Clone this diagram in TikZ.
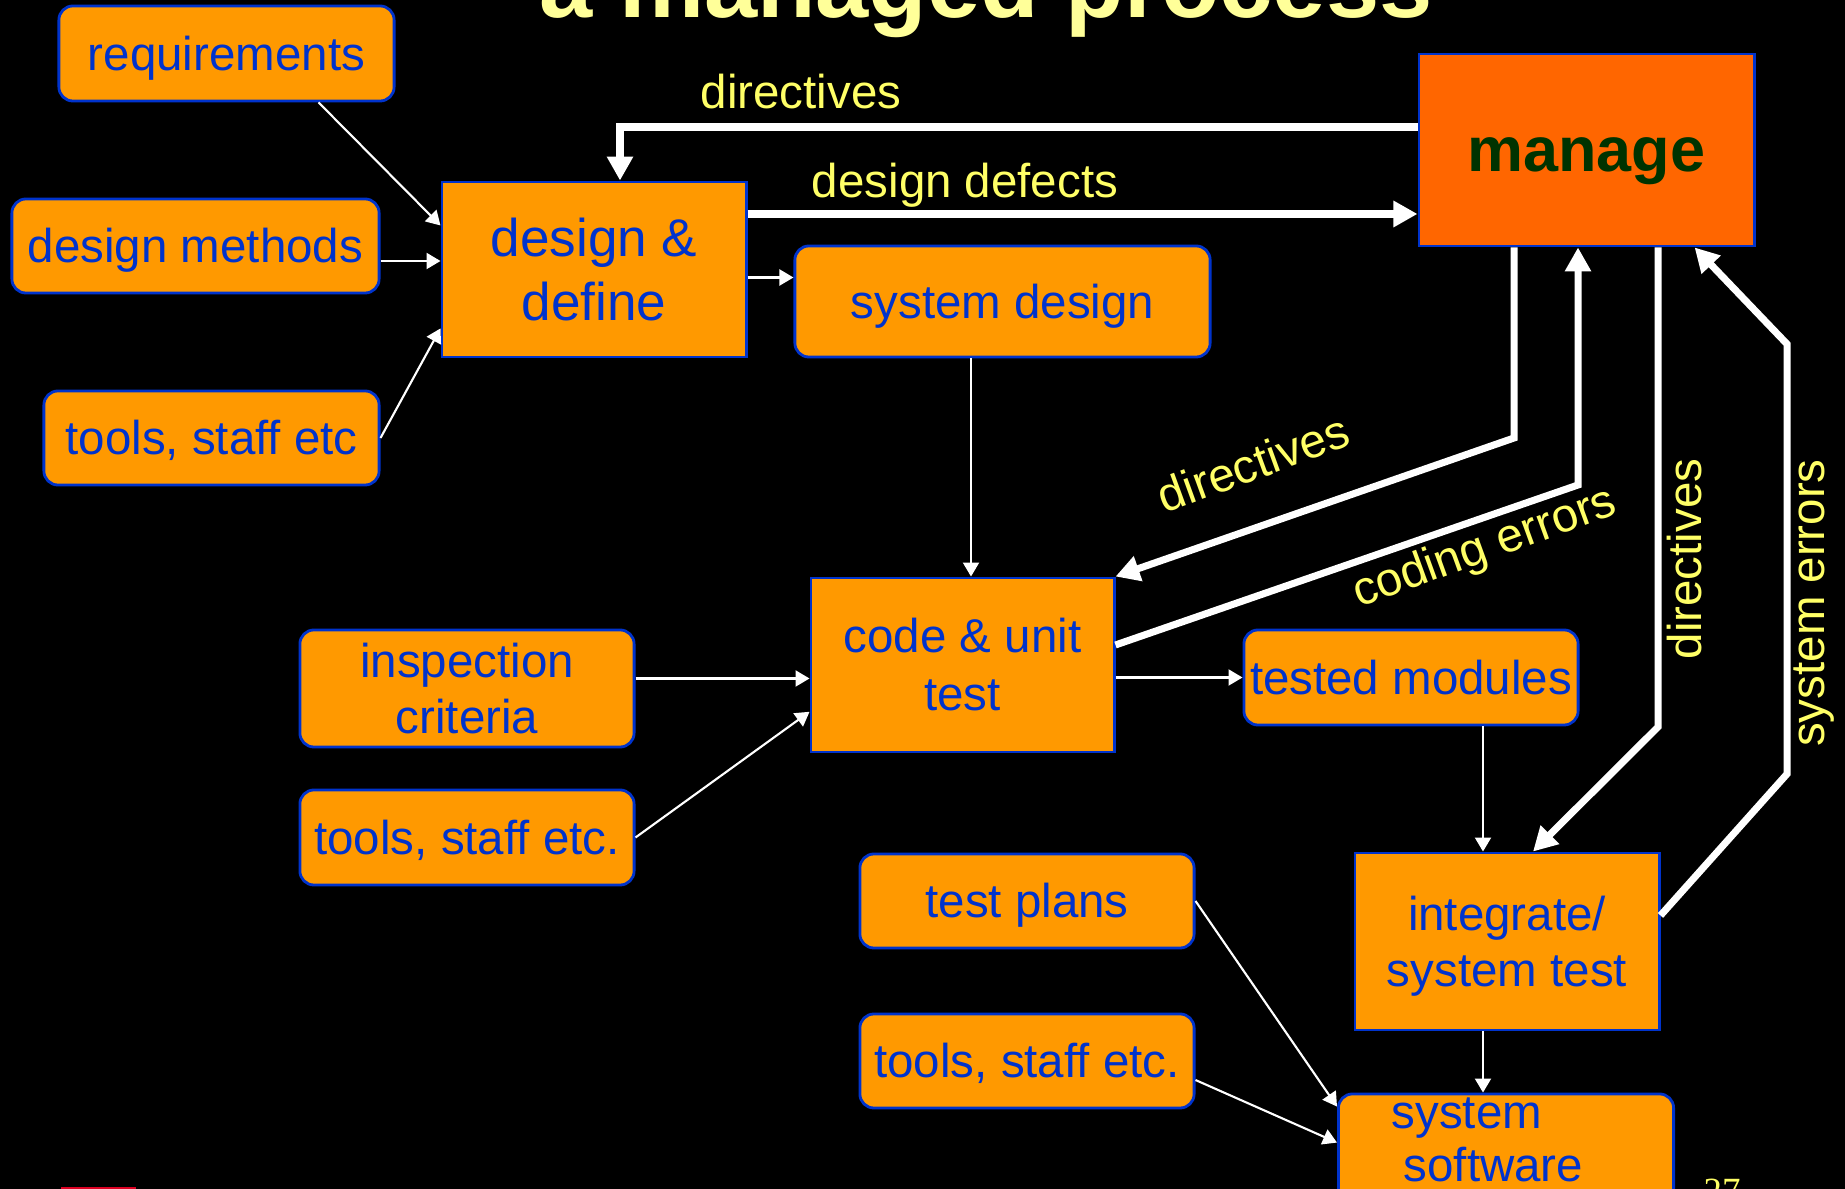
\documentclass[tikz,border=0pt]{standalone}
\usepackage{fontspec}
\setmainfont{Liberation Sans}
\newfontfamily\numfont{Liberation Serif}
\usetikzlibrary{arrows.meta}
\definecolor{boxorange}{HTML}{FF9900}
\definecolor{mgrorange}{HTML}{FF6600}
\definecolor{boxblue}{HTML}{0033CC}
\definecolor{mgrgreen}{HTML}{003300}
\definecolor{labyellow}{HTML}{FFFF66}
\definecolor{ttlyellow}{HTML}{FFFF99}
\definecolor{logored}{HTML}{DD0022}
\def\boxfont{\fontsize{13.5pt}{16pt}\selectfont}
\tikzset{
	box/.style={draw=boxblue, line width=0.8pt, fill=boxorange, text=boxblue, inner sep=0pt, align=center, font=\boxfont},
	rbox/.style={box, rounded corners=0.14cm},
	oneline/.style={text height=13pt, text depth=3.4pt},
	lbl/.style={text=labyellow, inner sep=0pt, font=\boxfont},
	feed/.style={draw=white, line width=0.6pt, -{Triangle[length=0.14cm, width=0.16cm]}},
	flow/.style={draw=white, line width=2pt, -{Triangle[length=0.24cm, width=0.25cm]}},
}

\begin{document}
\begin{tikzpicture}[x=0.01cm, y=-0.01cm]
		%%%%% START %%%%%
		
		\fill[black] (0, 0) rectangle (1845, 1189);
		\useasboundingbox (0, 0) rectangle (1845, 1189);
		
		\node[text=ttlyellow, font=\bfseries\fontsize{27.2pt}{30pt}\selectfont, anchor=base, inner sep=0pt] (title) at (986, 18) {a managed process};
		
		% inputs on the left
		\node[rbox, oneline, minimum width=3.35cm, minimum height=0.95cm] (req) at (226.5, 53.5) {requirements};
		\node[rbox, oneline, minimum width=3.67cm, minimum height=0.94cm] (meth) at (195.5, 246) {design methods};
		\node[rbox, oneline, minimum width=3.35cm, minimum height=0.94cm] (toolsA) at (211.5, 438) {tools, staff etc};
		\node[rbox, minimum width=3.34cm, minimum height=1.17cm] (insp) at (467, 688.5) {inspection\\criteria};
		\node[rbox, oneline, minimum width=3.34cm, minimum height=0.95cm] (toolsB) at (467, 837.5) {tools, staff etc.};
		\node[rbox, oneline, minimum width=3.34cm, minimum height=0.94cm] (plans) at (1027, 901) {test plans};
		\node[rbox, oneline, minimum width=3.34cm, minimum height=0.94cm] (toolsC) at (1027, 1061) {tools, staff etc.};
		
		% process steps
		\node[box, minimum width=3.04cm, minimum height=1.75cm, font=\fontsize{15.1pt}{18.2pt}\selectfont] (define) at (594, 269.5) {design \&\\define};
		\node[box, minimum width=3.03cm, minimum height=1.74cm, font=\fontsize{13.5pt}{16.5pt}\selectfont] (code) at (962.5, 665) {code \& unit\\test};
		\node[box, text depth=0pt, minimum width=3.04cm, minimum height=1.77cm, font=\fontsize{13.5pt}{15.9pt}\selectfont] (integ) at (1507, 941.5) {integrate/\\system test};
		\node[box, fill=mgrorange, text=mgrgreen, text height=16pt, text depth=4pt, minimum width=3.35cm, minimum height=1.92cm, font=\bfseries\fontsize{17.9pt}{20pt}\selectfont] (manage) at (1586.5, 150) {manage};
		
		% products
		\node[rbox, oneline, minimum width=4.15cm, minimum height=1.11cm] (sysdes) at (1002.5, 301.5) {system design};
		\node[rbox, oneline, minimum width=3.34cm, minimum height=0.95cm] (tested) at (1411, 677.5) {tested modules};
		\node[rbox, minimum width=3.35cm, minimum height=1.2cm] (soft) at (1506, 1154) {};
		\node[text=boxblue, inner sep=0pt, align=left, anchor=west, font=\fontsize{13.5pt}{15pt}\selectfont] (softlbl) at (1391, 1140) {system\\\hspace*{0.12cm}software};
		
		% thin feeds
		\draw[feed] (req.-28) -- (define.164);
		\draw[feed] ([yshift=-0.15cm]meth.east) -- ([yshift=-0.15cm]meth.east -| define.west);
		\draw[feed] (toolsA.east) -- (define.201);
		\draw[feed] ([yshift=-0.08cm]define.east) -- ([yshift=-0.08cm]define.east -| sysdes.west);
		\draw[feed] ([xshift=0.085cm]code.north |- sysdes.south) -- ([xshift=0.085cm]code.north);
		\draw[feed] ([yshift=0.1cm]insp.east) -- ([yshift=0.1cm]insp.east -| code.west);
		\draw[feed] (toolsB.east) -- (code.197);
		\draw[feed] (code.east |- tested.west) -- (tested.west);
		
		\coordinate (colT) at (1483, 0);
		\draw[feed] (tested.south -| colT) -- (integ.north -| colT);
		\draw[feed] (integ.south -| colT) -- (soft.north -| colT);
		\draw[feed] (plans.east) -- ([yshift=-0.14cm]soft.north west);
		\draw[feed] ([yshift=-0.19cm]toolsC.east) -- ([yshift=-0.5cm]soft.north west);
		
		% management loops
		\coordinate (dirA) at (620, 127);
		\coordinate (defB) at (700, 214);
		\coordinate (dirC) at (1514, 438);
		\coordinate (errC) at (1578, 485);
		\coordinate (dirD) at (1658, 727);
		\coordinate (errE) at (1787, 774);
		\coordinate (errF) at (1787, 344);
		
		\draw[flow] (dirA -| manage.west) -- (dirA) -- (dirA |- define.north);
		\draw[flow] (define.east |- defB) -- (manage.west |- defB);
		\draw[flow] (manage.south -| dirC) -- (dirC) -- (code.north east);
		\draw[flow] ([yshift=0.2cm]code.east) -- (errC) -- (errC |- manage.south);
		\draw[flow] (manage.south -| dirD) -- (dirD) -- ([xshift=0.26cm]integ.north);
		\draw[flow] ([yshift=0.26cm]integ.east) -- (errE) -- (errF) -- ([xshift=1.08cm]manage.south);
		
		\node[lbl, anchor=base] (dirAlbl) at (801, 109) {directives};
		\node[lbl, anchor=base] (defBlbl) at (965, 198) {design defects};
		\node[lbl, rotate=20] (dirClbl) at (1253, 463) {directives};
		\node[lbl, rotate=20] (errClbl) at (1485, 549) {coding errors};
		\node[lbl, rotate=90] (dirDlbl) at (1685, 559) {directives};
		\node[lbl, rotate=90] (errElbl) at (1814, 603) {system errors};
		
		\node[text=labyellow, font=\numfont\fontsize{10.5pt}{12pt}\selectfont, anchor=base, inner sep=0pt] (page) at (1722, 1203) {27};
		\fill[logored] (61, 1187) rectangle (136, 1195);
		
		%%%%% END %%%%%
	\end{tikzpicture}
\end{document}
